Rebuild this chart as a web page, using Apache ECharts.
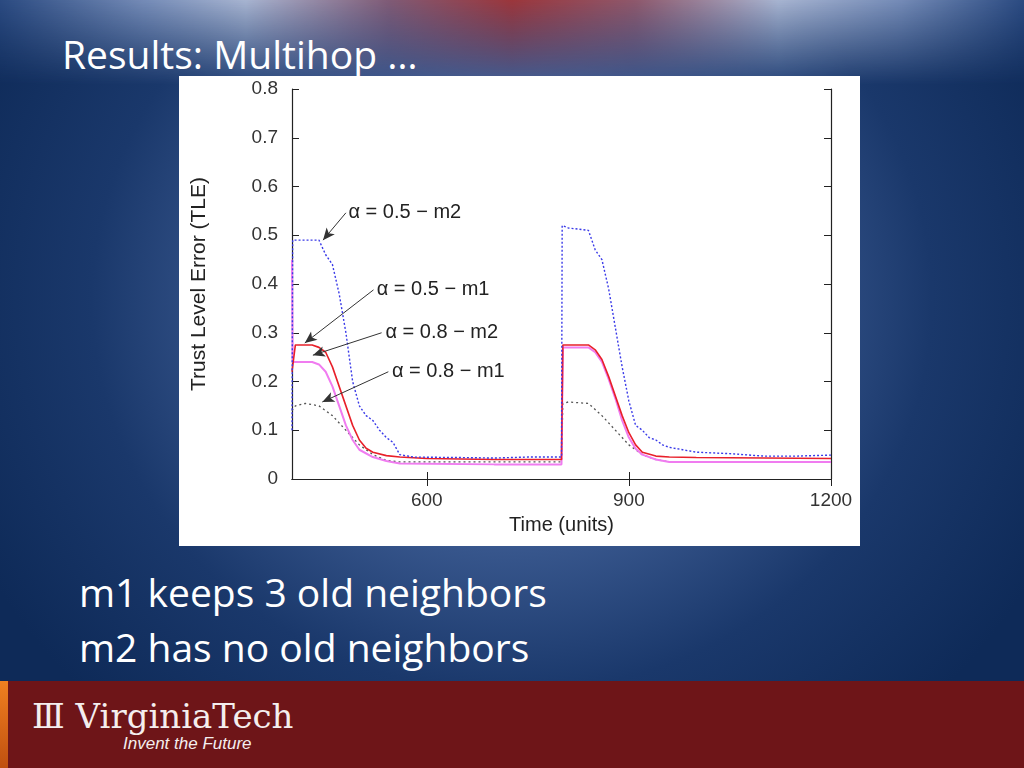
<!DOCTYPE html>
<html><head><meta charset="utf-8">
<script src="https://cdn.jsdelivr.net/npm/echarts@6/dist/echarts.min.js"></script>
<style>
body{margin:0;width:1024px;height:768px;overflow:hidden;position:relative;font-family:"Open Sans","DejaVu Sans",sans-serif;
background:radial-gradient(ellipse 600px 560px at 512px 300px,#6f8abd 0%,#3f5e95 38%,#1a386b 70%,#0e2a58 100%);}
#top{position:absolute;left:0;top:0;width:1024px;height:85px;background:linear-gradient(90deg,#2e4e86 0%,#7f95c0 14%,#b7c2dc 24%,#8a5d75 38%,#a83434 50%,#9a5a6a 62%,#b7c2dc 76%,#7f95c0 88%,#2e4e86 100%);opacity:.9;
-webkit-mask-image:linear-gradient(180deg,#000 0%,transparent 100%);mask-image:linear-gradient(180deg,#000 0%,transparent 100%)}
.t{position:absolute;color:#fff;white-space:nowrap}
#band{position:absolute;left:0;top:681px;width:1024px;height:87px;background:#6e1518}
#strip{position:absolute;left:0;top:681px;width:8px;height:87px;background:linear-gradient(180deg,#f08020,#c05010)}
#chart{position:absolute;left:179px;top:76px;width:681px;height:470px;background:#fff}
</style></head><body>
<div id="top"></div>
<div class="t" style="left:62px;top:27px;font-size:39px;">Results: Multihop …</div>
<div class="t" style="left:79px;top:565px;font-size:39px;">m1 keeps 3 old neighbors</div>
<div class="t" style="left:79px;top:620px;font-size:39px;">m2 has no old neighbors</div>
<div id="band"></div><div id="strip"></div>
<div class="t" style="left:32px;top:696px;font-size:34px;font-family:'DejaVu Serif',serif;color:#f4eeee;">Ⅲ VirginiaTech</div>
<div class="t" style="left:123px;top:734px;font-size:17px;font-style:italic;font-family:'Liberation Sans',sans-serif;color:#f4eeee;">Invent the Future</div>
<div id="chart"></div>
<script>
const blueM2 = [[400,0.1],[401,0.49],[410,0.49],[440,0.49],[450,0.46],[460,0.44],[470,0.38],[480,0.30],[490,0.20],[500,0.15],[510,0.13],[520,0.12],[530,0.10],[540,0.085],[550,0.075],[560,0.05],[580,0.045],[650,0.044],[700,0.043],[750,0.045],[800,0.045],
 [801,0.52],[810,0.515],[840,0.51],[850,0.47],[860,0.45],[870,0.39],[880,0.31],[890,0.23],[900,0.16],[910,0.11],[920,0.10],[930,0.085],[940,0.08],[950,0.07],[960,0.065],[980,0.06],[1000,0.055],[1050,0.052],[1100,0.047],[1150,0.047],[1200,0.049]];
const redM1 = [[400,0.22],[405,0.275],[430,0.275],[440,0.27],[450,0.26],[460,0.23],[470,0.19],[480,0.15],[490,0.11],[500,0.08],[510,0.063],[520,0.055],[540,0.048],[560,0.045],[600,0.042],[700,0.04],[800,0.04],
 [802,0.275],[840,0.275],[850,0.265],[860,0.245],[870,0.21],[880,0.17],[890,0.13],[900,0.095],[910,0.07],[920,0.055],[940,0.047],[960,0.045],[1000,0.044],[1200,0.042]];
const magM2 = [[400,0.45],[401,0.24],[430,0.24],[440,0.235],[450,0.22],[460,0.19],[470,0.15],[480,0.11],[490,0.08],[500,0.06],[520,0.045],[540,0.037],[560,0.032],[700,0.03],[800,0.03],
 [802,0.27],[840,0.27],[850,0.26],[860,0.24],[870,0.205],[880,0.165],[890,0.12],[900,0.085],[910,0.062],[920,0.05],[940,0.04],[960,0.035],[1200,0.035]];
const blkM1 = [[400,0.14],[405,0.15],[420,0.155],[440,0.15],[460,0.13],[480,0.10],[500,0.07],[520,0.05],[540,0.038],[560,0.035],[800,0.035],
 [802,0.155],[810,0.158],[840,0.155],[860,0.13],[880,0.10],[900,0.07],[920,0.05],[940,0.04],[960,0.035],[1200,0.035]];
const xTicks = [600,900,1200];
const labels = [
 {text:'α = 0.5 − m2', from:[480,0.546], to:[446,0.49]},
 {text:'α = 0.5 − m1', from:[521,0.388], to:[419,0.279]},
 {text:'α = 0.8 − m2', from:[533,0.30], to:[431,0.254]},
 {text:'α = 0.8 − m1', from:[543,0.22], to:[445,0.158]}
];
const ch = echarts.init(document.getElementById('chart'));
const font = 'Liberation Sans';
const tick = {inside:true,length:7,lineStyle:{color:'#222'}};
const ax = {axisLine:{lineStyle:{color:'#222',width:1.2}},axisTick:tick,splitLine:{show:false}};
ch.setOption({
 animation:false,
 grid:{left:113,top:13,right:29,bottom:67},
 xAxis:[Object.assign({type:'value',min:400,max:1200,name:'Time (units)',nameLocation:'middle',nameGap:36,
   nameTextStyle:{fontFamily:font,fontSize:20,color:'#222'},
   axisLabel:{customValues:xTicks,fontFamily:font,fontSize:19,color:'#333',margin:12,formatter:v=>String(v)}},
   ax,{axisTick:Object.assign({customValues:xTicks},tick)}),
  Object.assign({type:'value',position:'top',min:400,max:1200,axisLabel:{show:false}},ax,{axisTick:Object.assign({customValues:xTicks},tick)})],
 yAxis:[Object.assign({type:'value',min:0,max:0.8,interval:0.1,name:'Trust Level Error (TLE)',nameLocation:'middle',nameGap:82,
   nameTextStyle:{fontFamily:font,fontSize:21,color:'#222'},
   axisLabel:{fontFamily:font,fontSize:19,color:'#333',margin:14,formatter:v=>v===0?'0':v.toFixed(1)}},ax),
  Object.assign({type:'value',position:'right',min:0,max:0.8,interval:0.1,axisLabel:{show:false}},ax)],
 series:[
  {type:'line',data:blkM1,symbol:'none',lineStyle:{color:'#555',width:1.3,type:[2,3]}},
  {type:'line',data:magM2,symbol:'none',lineStyle:{color:'#f07cf0',width:2}},
  {type:'line',data:redM1,symbol:'none',lineStyle:{color:'#e8202a',width:1.6}},
  {type:'line',data:blueM2,symbol:'none',lineStyle:{color:'#3a3ae8',width:1.4,type:[2,2]},
   markLine:{silent:true,symbol:['none','arrow'],symbolSize:[8,12],lineStyle:{color:'#333',width:1,type:'solid'},
    label:{show:true,position:'start',formatter:p=>p.name,fontFamily:font,fontSize:20,color:'#222',align:'left',distance:[4,0]},
    data:labels.map(l=>[{coord:l.from,name:l.text},{coord:l.to}])}}
 ]
});
</script></body></html>
